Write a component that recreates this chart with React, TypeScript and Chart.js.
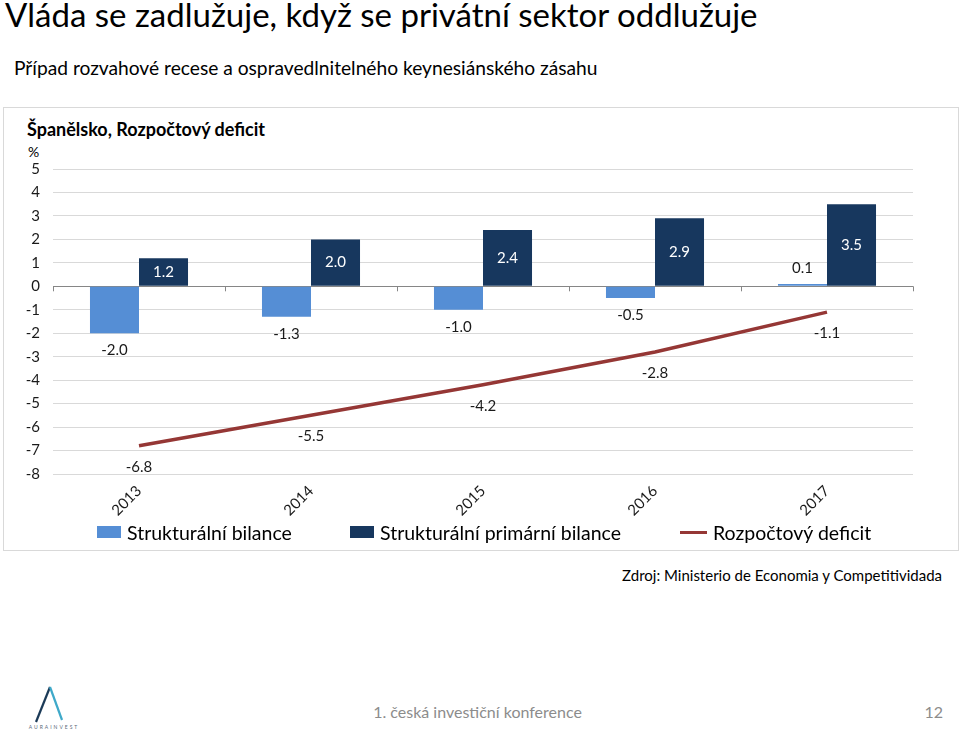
import React, { useEffect, useRef } from "react";
import { Chart, registerables } from "chart.js";

Chart.register(...registerables);

const categories = ["2013", "2014", "2015", "2016", "2017"];
const structuralBalance = [-2.0, -1.3, -1.0, -0.5, 0.1];
const structuralPrimaryBalance = [1.2, 2.0, 2.4, 2.9, 3.5];
const budgetDeficit = [-6.8, -5.5, -4.2, -2.8, -1.1];
const seriesNames = ["Strukturální bilance", "Strukturální primární bilance", "Rozpočtový deficit"];
const seriesColors = ["#558ED5", "#17375E", "#953735"];
const yMin = -8;
const yMax = 5;

const FONT = "Lato, 'Open Sans', sans-serif";

const valueLabels = {
  id: "valueLabels",
  afterDatasetsDraw(chart: any) {
    const ctx = chart.ctx;
    ctx.save();
    ctx.font = `15px ${FONT}`;
    ctx.textAlign = "center";
    ctx.textBaseline = "middle";
    chart.data.datasets.forEach((ds: any, di: number) => {
      const meta = chart.getDatasetMeta(di);
      meta.data.forEach((el: any, i: number) => {
        const v = ds.data[i] as number;
        const txt = v.toFixed(1);
        let y: number;
        if (di === 0) {
          y = v < 0 ? el.y + 17 : el.y - 16;
          ctx.fillStyle = "#1a1a1a";
        } else if (di === 1) {
          y = (el.y + el.base) / 2;
          ctx.fillStyle = "#ffffff";
        } else {
          y = el.y + 21;
          ctx.fillStyle = "#1a1a1a";
        }
        ctx.fillText(txt, el.x, y);
      });
    });
    ctx.restore();
  },
};

const zeroTicks = {
  id: "zeroTicks",
  beforeDatasetsDraw(chart: any) {
    const ctx = chart.ctx;
    const y0 = chart.scales.y.getPixelForValue(0);
    const xs = chart.scales.x;
    ctx.save();
    ctx.strokeStyle = "#868686";
    ctx.lineWidth = 1;
    ctx.beginPath();
    for (let i = 0; i <= categories.length; i++) {
      const x = Math.round(xs.getPixelForValue(i - 0.5)) + 0.5;
      ctx.moveTo(x, y0);
      ctx.lineTo(x, y0 + 5);
    }
    ctx.stroke();
    ctx.restore();
  },
};

function ChartBox() {
  const ref = useRef<HTMLCanvasElement | null>(null);
  useEffect(() => {
    if (!ref.current) return;
    const chart = new Chart(ref.current, {
      type: "bar",
      data: {
        labels: categories,
        datasets: [
          {
            type: "bar",
            label: seriesNames[0],
            data: structuralBalance,
            backgroundColor: seriesColors[0],
            borderWidth: 0,
            categoryPercentage: 0.57,
            barPercentage: 1.0,
            order: 2,
          },
          {
            type: "bar",
            label: seriesNames[1],
            data: structuralPrimaryBalance,
            backgroundColor: seriesColors[1],
            borderWidth: 0,
            categoryPercentage: 0.57,
            barPercentage: 1.0,
            order: 2,
          },
          {
            type: "line",
            label: seriesNames[2],
            data: budgetDeficit,
            borderColor: seriesColors[2],
            backgroundColor: seriesColors[2],
            borderWidth: 3.5,
            pointRadius: 0,
            tension: 0,
            order: 1,
          } as any,
        ],
      },
      options: {
        responsive: false,
        animation: false,
        layout: { padding: { left: 0, right: 44, top: 61, bottom: 0 } },
        plugins: {
          legend: { display: false },
          tooltip: { enabled: false },
          title: { display: false },
        },
        scales: {
          x: {
            offset: true,
            grid: { display: false, drawTicks: false },
            border: { display: false },
            ticks: {
              autoSkip: false,
              minRotation: 45,
              maxRotation: 45,
              padding: 8,
              color: "#1a1a1a",
              font: { family: FONT, size: 15 },
            },
            afterFit(scale: any) {
              scale.height = 64;
            },
          },
          y: {
            min: yMin,
            max: yMax,
            grid: {
              drawTicks: false,
              color: (c: any) => (c.tick && c.tick.value === 0 ? "#868686" : "#D9D9D9"),
              lineWidth: 1,
            },
            border: { display: false },
            ticks: {
              stepSize: 1,
              padding: 13,
              color: "#1a1a1a",
              font: { family: FONT, size: 15 },
            },
            afterFit(scale: any) {
              scale.width = 49;
            },
          },
        },
      },
      plugins: [zeroTicks, valueLabels],
    } as any);
    return () => chart.destroy();
  }, []);
  return (
    <canvas
      ref={ref}
      width={953}
      height={430}
      style={{ position: "absolute", left: 4, top: 108, width: 953, height: 430 }}
    />
  );
}

export default function App() {
  const legendLeft = [97, 350, 680];
  return (
    <div
      style={{
        position: "fixed",
        left: 0,
        top: 0,
        width: 960,
        height: 734,
        background: "#fff",
        fontFamily: FONT,
        color: "#000",
        overflow: "hidden",
      }}
    >
      <div style={{ position: "absolute", left: 5, top: -6, fontSize: 33, whiteSpace: "nowrap" }}>
        Vláda se zadlužuje, když se privátní sektor oddlužuje
      </div>
      <div style={{ position: "absolute", left: 14, top: 56, fontSize: 19.2, whiteSpace: "nowrap" }}>
        Případ rozvahové recese a ospravedlnitelného keynesiánského zásahu
      </div>
      <div
        style={{
          position: "absolute",
          left: 3,
          top: 107,
          width: 954,
          height: 442,
          border: "1px solid #D9D9D9",
        }}
      />
      <div style={{ position: "absolute", left: 27, top: 118, fontSize: 18, fontWeight: 700, whiteSpace: "nowrap" }}>
        Španělsko, Rozpočtový deficit
      </div>
      <div style={{ position: "absolute", left: 28, top: 143, fontSize: 14 }}>%</div>
      <ChartBox />
      {seriesNames.map((name, i) => (
        <div
          key={name}
          style={{
            position: "absolute",
            left: legendLeft[i],
            top: 520,
            height: 24,
            display: "flex",
            alignItems: "center",
            whiteSpace: "nowrap",
            fontSize: 19.5,
          }}
        >
          {i < 2 ? (
            <span style={{ display: "inline-block", width: 24, height: 12, background: seriesColors[i], marginRight: 6 }} />
          ) : (
            <span style={{ display: "inline-block", width: 27, height: 3, background: seriesColors[i], marginRight: 6 }} />
          )}
          <span>{name}</span>
        </div>
      ))}
      <div style={{ position: "absolute", right: 18, top: 566, fontSize: 15, whiteSpace: "nowrap" }}>
        Zdroj: Ministerio de Economia y Competitividada
      </div>
      <svg style={{ position: "absolute", left: 22, top: 680 }} width={66} height={54}>
        <line x1={14} y1={42} x2={28} y2={7} stroke="#1B3A57" strokeWidth={2.2} />
        <line x1={28} y1={7} x2={40} y2={40} stroke="#3FA9C9" strokeWidth={2.2} />
        <text x={32} y={49} fontSize={5} textAnchor="middle" fill="#5a6a7a" letterSpacing={2} fontFamily={FONT}>
          AURAINVEST
        </text>
      </svg>
      <div style={{ position: "absolute", left: 0, width: 955, textAlign: "center", top: 702, fontSize: 16, color: "#8C8C8C" }}>
        1. česká investiční konference
      </div>
      <div style={{ position: "absolute", right: 17, top: 702, fontSize: 16, color: "#8C8C8C" }}>12</div>
    </div>
  );
}
